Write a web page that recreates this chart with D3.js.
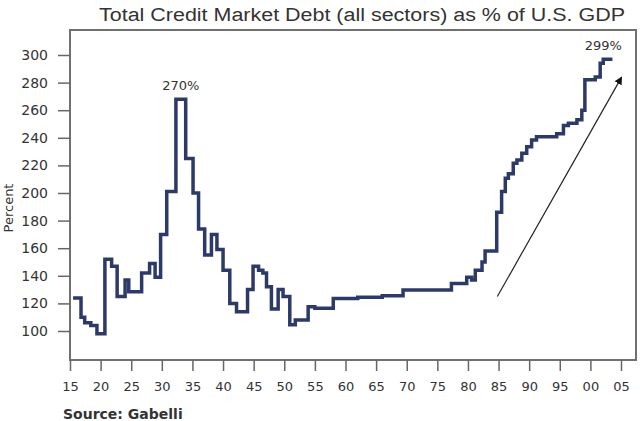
<!DOCTYPE html>
<html>
<head>
<meta charset="utf-8">
<script src="https://cdn.jsdelivr.net/npm/d3@7"></script>
<style>
  html, body { margin: 0; padding: 0; background: #fff; }
  svg { display: block; }
  text { font-family: "DejaVu Sans", "Liberation Sans", Arial, sans-serif; fill: #333; }
</style>
</head>
<body>
<svg id="chart" width="640" height="421"></svg>
<script>
// Step points: year at which the level starts, and its value (% of GDP)
const years = [1915.5, 1916.8, 1917.4, 1918.4, 1919.4, 1920.7, 1921.8, 1922.7, 1924.0, 1924.6,
  1926.7, 1928.0, 1928.9, 1929.8, 1930.8, 1932.3, 1933.9, 1935.1, 1936.0, 1937.0,
  1938.1, 1939.0, 1940.0, 1941.1, 1942.2, 1944.0, 1944.9, 1945.8, 1946.5, 1947.1,
  1947.9, 1949.0, 1949.8, 1950.9, 1951.8, 1953.9, 1955.0, 1958.0, 1962.0, 1966.0,
  1969.4, 1977.3, 1979.8, 1980.6, 1981.2, 1982.3, 1982.8, 1984.7, 1985.5, 1986.1,
  1986.6, 1987.4, 1988.0, 1988.8, 1989.6, 1990.4, 1991.2, 1994.5, 1995.6, 1996.4,
  1997.8, 1998.6, 1999.1, 2000.8, 2001.6, 2002.1, 2003.6];
const values = [124, 110, 106, 104, 98, 152, 147, 125, 137, 128.5,
  142, 149, 139, 170, 201, 268, 225, 200, 174, 155,
  170, 159, 144, 120, 114, 130, 147, 144, 142, 132,
  116, 130, 125, 104.5, 108, 117.6, 116.4, 123.5, 124.5, 125.5,
  129.7, 134.5, 139, 137, 144, 150, 158, 186, 201, 210.6,
  214, 221.5, 224, 228.8, 233.6, 238.4, 240.8, 243, 249, 250.5,
  253, 260, 282, 284, 294, 297, 297];

const xTicks = [1915, 1920, 1925, 1930, 1935, 1940, 1945, 1950, 1955, 1960, 1965, 1970,
  1975, 1980, 1985, 1990, 1995, 2000, 2005];
const yTicks = [100, 120, 140, 160, 180, 200, 220, 240, 260, 280, 300];

const peakLabel = { year: 1933.1, value: 270, text: "270%" };
const endLabel = { year: 2002.1, value: 299, text: "299%" };
const arrowFrom = { year: 1984.8, value: 125 };
const arrowTo = { year: 2005.1, value: 284 };

const title = "Total Credit Market Debt (all sectors) as % of U.S. GDP";
const yTitle = "Percent";
const source = "Source: Gabelli";

const svg = d3.select("#chart");
const frame = { left: 70, right: 636, top: 30, bottom: 360 };

const x = d3.scaleLinear().domain([1915, 2005]).range([70, 621]);
const y = d3.scaleLinear().domain([100, 300]).range([331, 55]);

// Title
svg.append("text")
  .attr("x", 362).attr("y", 21)
  .attr("text-anchor", "middle")
  .style("font-family", "Liberation Sans, Arial, sans-serif")
  .style("font-size", "18px")
  .attr("textLength", 526)
  .attr("lengthAdjust", "spacingAndGlyphs")
  .text(title);

// Frame
svg.append("rect")
  .attr("x", frame.left).attr("y", frame.top)
  .attr("width", frame.right - frame.left)
  .attr("height", frame.bottom - frame.top)
  .attr("fill", "none")
  .attr("stroke", "#707070")
  .attr("stroke-width", 2);

// Y axis
const yAxis = svg.append("g")
  .attr("transform", `translate(${frame.left},0)`)
  .call(d3.axisLeft(y).tickValues(yTicks).tickSize(12).tickPadding(10));
yAxis.select(".domain").remove();
yAxis.selectAll(".tick line").attr("stroke", "#666").attr("stroke-width", 1.5);
yAxis.selectAll(".tick text").style("font-size", "14px")
  .style("font-family", "DejaVu Sans, sans-serif").attr("fill", "#333");

// X axis
const xAxis = svg.append("g")
  .attr("transform", `translate(0,${frame.bottom})`)
  .call(d3.axisBottom(x).tickValues(xTicks).tickSize(11).tickPadding(11)
    .tickFormat(d => String(d % 100).padStart(2, "0")));
xAxis.select(".domain").remove();
xAxis.selectAll(".tick line").attr("stroke", "#666").attr("stroke-width", 1.5);
xAxis.selectAll(".tick text").style("font-size", "13px")
  .style("font-family", "DejaVu Sans, sans-serif").attr("fill", "#333");

// Y title
svg.append("text")
  .attr("transform", `translate(13,208) rotate(-90)`)
  .attr("text-anchor", "middle")
  .style("font-size", "13px")
  .text(yTitle);

// Data line
const pts = years.map((yr, i) => [yr, values[i]]);
const line = d3.line()
  .x(d => x(d[0]))
  .y(d => y(d[1]))
  .curve(d3.curveStepAfter);
svg.append("path")
  .datum(pts)
  .attr("d", line)
  .attr("fill", "none")
  .attr("stroke", "#2d3a68")
  .attr("stroke-width", 3.5)
  .attr("stroke-linejoin", "miter");

// Arrow
const defs = svg.append("defs");
defs.append("marker")
  .attr("id", "ah")
  .attr("viewBox", "0 0 10 10")
  .attr("refX", 9).attr("refY", 5)
  .attr("markerWidth", 8).attr("markerHeight", 8)
  .attr("markerUnits", "userSpaceOnUse")
  .attr("orient", "auto")
  .append("path")
  .attr("d", "M0,0 L10,5 L0,10 Z")
  .attr("fill", "#111");
svg.append("line")
  .attr("x1", x(arrowFrom.year)).attr("y1", y(arrowFrom.value))
  .attr("x2", x(arrowTo.year)).attr("y2", y(arrowTo.value))
  .attr("stroke", "#222").attr("stroke-width", 1.2)
  .attr("marker-end", "url(#ah)");

// Annotations
svg.append("text")
  .attr("x", x(peakLabel.year)).attr("y", y(peakLabel.value) - 6)
  .attr("text-anchor", "middle")
  .style("font-size", "13px")
  .text(peakLabel.text);
svg.append("text")
  .attr("x", x(endLabel.year)).attr("y", y(endLabel.value) - 6)
  .attr("text-anchor", "middle")
  .style("font-size", "13px")
  .text(endLabel.text);

// Source
svg.append("text")
  .attr("x", 63).attr("y", 419)
  .style("font-size", "14px")
  .style("font-weight", "bold")
  .text(source);
</script>
</body>
</html>
